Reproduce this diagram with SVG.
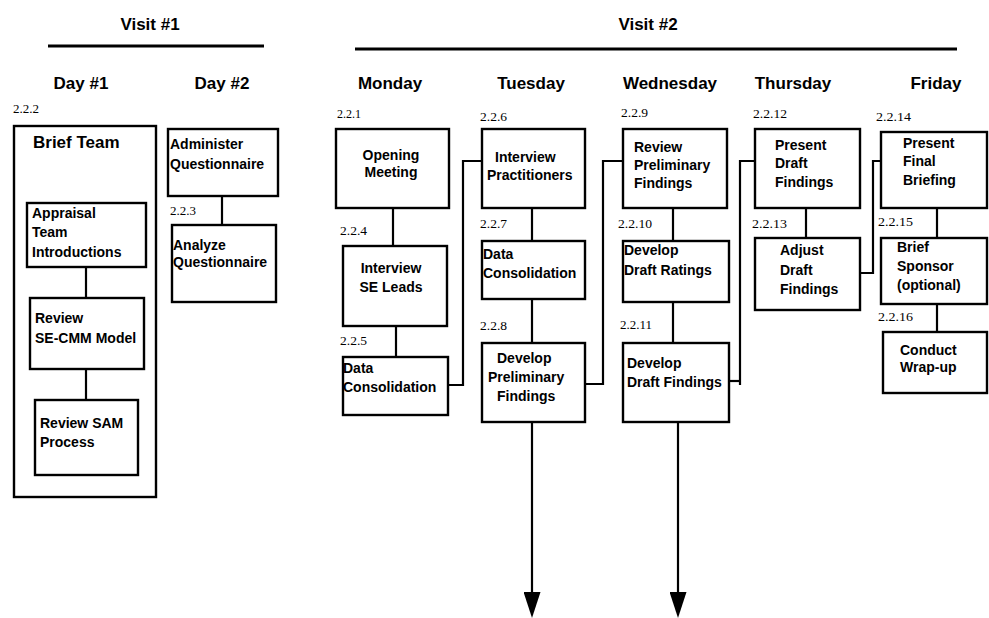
<svg xmlns="http://www.w3.org/2000/svg" width="989" height="618" viewBox="0 0 989 618">
<style>
.hd{font-family:"Liberation Sans",Arial,sans-serif;font-weight:bold;font-size:17px;fill:#000;text-anchor:middle}
.t{font-family:"Liberation Sans",Arial,sans-serif;font-weight:bold;font-size:14px;fill:#000}
.c{text-anchor:middle}
.n{font-family:"Liberation Serif","Times New Roman",serif;font-size:12px;fill:#000}
.box{fill:#fff;stroke:#000;stroke-width:2.4}
.ln{fill:none;stroke:#000;stroke-width:2.2}
.rule{stroke:#000;stroke-width:3}
</style>
<defs>
<marker id="ah" viewBox="0 0 26 17" refX="0" refY="8.5" markerWidth="26" markerHeight="17" markerUnits="userSpaceOnUse" orient="auto">
<path d="M0,0 L26,8.5 L0,17 z" fill="#000"/>
</marker>
</defs>
<rect width="989" height="618" fill="#fff"/>

<g id="headers">
<text class="hd" x="150" y="30">Visit #1</text>
<line class="rule" x1="48" y1="46" x2="264" y2="46"/>
<text class="hd" x="648" y="30">Visit #2</text>
<line class="rule" x1="355" y1="49" x2="957" y2="49"/>
<text class="hd" x="81" y="89">Day #1</text>
<text class="hd" x="222" y="89">Day #2</text>
<text class="hd" x="390" y="89">Monday</text>
<text class="hd" x="531" y="89">Tuesday</text>
<text class="hd" x="670" y="89">Wednesday</text>
<text class="hd" x="793" y="89">Thursday</text>
<text class="hd" x="936" y="89">Friday</text>
</g>

<g id="n222">
<text class="n" x="13" y="113" textLength="26" lengthAdjust="spacingAndGlyphs">2.2.2</text>
<rect class="box" x="14" y="126" width="142" height="371"/>
<text class="t" x="33" y="148" style="font-size:17px">Brief Team</text>
</g>
<g id="connectors">
<line class="ln" x1="86" y1="267" x2="86" y2="298"/>
<line class="ln" x1="86" y1="369" x2="86" y2="400"/>
<line class="ln" x1="222" y1="196" x2="222" y2="225"/>
<line class="ln" x1="393" y1="208" x2="393" y2="246"/>
<line class="ln" x1="396" y1="326" x2="396" y2="357"/>
<polyline class="ln" points="448,385 463,385 463,161 482,161"/>
<line class="ln" x1="532" y1="208" x2="532" y2="241"/>
<line class="ln" x1="532" y1="299" x2="532" y2="343"/>
<polyline class="ln" points="585,384 603,384 603,161 623,161"/>
<line class="ln" x1="673" y1="208" x2="673" y2="241"/>
<line class="ln" x1="673" y1="302" x2="673" y2="343"/>
<polyline class="ln" points="729,381 740,381"/>
<polyline class="ln" points="740,385 740,161 755,161"/>
<line class="ln" x1="806" y1="208" x2="806" y2="238"/>
<polyline class="ln" points="860,273 873,273 873,161 885,161"/>
<line class="ln" x1="937" y1="208" x2="937" y2="238"/>
<line class="ln" x1="937" y1="304" x2="937" y2="332"/>
<line class="ln" x1="532" y1="422" x2="532" y2="592" marker-end="url(#ah)"/>
<line class="ln" x1="678" y1="422" x2="678" y2="592" marker-end="url(#ah)"/>
</g>

<g id="appraisal">
<rect class="box" x="27" y="203" width="119" height="64"/>
<text class="t" x="32" y="218">Appraisal</text>
<text class="t" x="32" y="237">Team</text>
<text class="t" x="32" y="257">Introductions</text>
</g>
<g id="secmm">
<rect class="box" x="30" y="298" width="114" height="71"/>
<text class="t" x="35" y="323">Review</text>
<text class="t" x="35" y="343">SE-CMM Model</text>
</g>
<g id="sam">
<rect class="box" x="35" y="400" width="103" height="75"/>
<text class="t" x="40" y="428">Review SAM</text>
<text class="t" x="40" y="447">Process</text>
</g>
<g id="administer">
<rect class="box" x="168" y="129" width="110" height="67"/>
<text class="t" x="170" y="149">Administer</text>
<text class="t" x="170" y="169">Questionnaire</text>
</g>
<g id="n223">
<text class="n" x="170" y="215" textLength="26" lengthAdjust="spacingAndGlyphs">2.2.3</text>
<rect class="box" x="172" y="225" width="104" height="77"/>
<text class="t" x="173" y="250">Analyze</text>
<text class="t" x="173" y="267">Questionnaire</text>
</g>

<g id="n221">
<text class="n" x="337" y="118" textLength="24" lengthAdjust="spacingAndGlyphs">2.2.1</text>
<rect class="box" x="336" y="129" width="113" height="79"/>
<text class="t c" x="391" y="160">Opening</text>
<text class="t c" x="391" y="177">Meeting</text>
</g>
<g id="n224">
<text class="n" x="340" y="235" textLength="27" lengthAdjust="spacingAndGlyphs">2.2.4</text>
<rect class="box" x="343" y="246" width="104" height="80"/>
<text class="t c" x="391" y="273">Interview</text>
<text class="t c" x="391" y="292">SE Leads</text>
</g>
<g id="n225">
<text class="n" x="340" y="345" textLength="27" lengthAdjust="spacingAndGlyphs">2.2.5</text>
<rect class="box" x="343" y="357" width="105" height="58"/>
<text class="t" x="343" y="373">Data</text>
<text class="t" x="343" y="392">Consolidation</text>
</g>

<g id="n226">
<text class="n" x="480" y="121" textLength="27" lengthAdjust="spacingAndGlyphs">2.2.6</text>
<rect class="box" x="482" y="129" width="103" height="79"/>
<text class="t" x="495" y="162">Interview</text>
<text class="t" x="487" y="180">Practitioners</text>
</g>
<g id="n227">
<text class="n" x="480" y="228" textLength="27" lengthAdjust="spacingAndGlyphs">2.2.7</text>
<rect class="box" x="482" y="241" width="103" height="58"/>
<text class="t" x="483" y="259">Data</text>
<text class="t" x="483" y="278">Consolidation</text>
</g>
<g id="n228">
<text class="n" x="480" y="330" textLength="27" lengthAdjust="spacingAndGlyphs">2.2.8</text>
<rect class="box" x="482" y="343" width="103" height="79"/>
<text class="t" x="497" y="363">Develop</text>
<text class="t" x="488" y="382">Preliminary</text>
<text class="t" x="497" y="401">Findings</text>
</g>

<g id="n229">
<text class="n" x="621" y="117" textLength="27" lengthAdjust="spacingAndGlyphs">2.2.9</text>
<rect class="box" x="623" y="129" width="104" height="79"/>
<text class="t" x="634" y="152">Review</text>
<text class="t" x="634" y="170">Preliminary</text>
<text class="t" x="634" y="188">Findings</text>
</g>
<g id="n2210">
<text class="n" x="618" y="228" textLength="34" lengthAdjust="spacingAndGlyphs">2.2.10</text>
<rect class="box" x="623" y="241" width="106" height="61"/>
<text class="t" x="624" y="255">Develop</text>
<text class="t" x="624" y="275">Draft Ratings</text>
</g>
<g id="n2211">
<text class="n" x="620" y="329" textLength="32" lengthAdjust="spacingAndGlyphs">2.2.11</text>
<rect class="box" x="623" y="343" width="106" height="79"/>
<text class="t" x="627" y="368">Develop</text>
<text class="t" x="627" y="387">Draft Findings</text>
</g>

<g id="n2212">
<text class="n" x="753" y="118" textLength="34" lengthAdjust="spacingAndGlyphs">2.2.12</text>
<rect class="box" x="755" y="129" width="105" height="79"/>
<text class="t" x="775" y="150">Present</text>
<text class="t" x="775" y="168">Draft</text>
<text class="t" x="775" y="187">Findings</text>
</g>
<g id="n2213">
<text class="n" x="752" y="228" textLength="35" lengthAdjust="spacingAndGlyphs">2.2.13</text>
<rect class="box" x="755" y="238" width="105" height="72"/>
<text class="t" x="780" y="255">Adjust</text>
<text class="t" x="780" y="275">Draft</text>
<text class="t" x="780" y="294">Findings</text>
</g>

<g id="n2214">
<text class="n" x="876" y="121" textLength="35" lengthAdjust="spacingAndGlyphs">2.2.14</text>
<rect class="box" x="881" y="132" width="106" height="76"/>
<text class="t" x="903" y="148">Present</text>
<text class="t" x="903" y="166">Final</text>
<text class="t" x="903" y="185">Briefing</text>
</g>
<g id="n2215">
<text class="n" x="878" y="226" textLength="35" lengthAdjust="spacingAndGlyphs">2.2.15</text>
<rect class="box" x="881" y="238" width="106" height="66"/>
<text class="t" x="897" y="252">Brief</text>
<text class="t" x="897" y="271">Sponsor</text>
<text class="t" x="897" y="290">(optional)</text>
</g>
<g id="n2216">
<text class="n" x="878" y="321" textLength="35" lengthAdjust="spacingAndGlyphs">2.2.16</text>
<rect class="box" x="883" y="332" width="104" height="61"/>
<text class="t" x="900" y="355">Conduct</text>
<text class="t" x="900" y="372">Wrap-up</text>
</g>
</svg>
